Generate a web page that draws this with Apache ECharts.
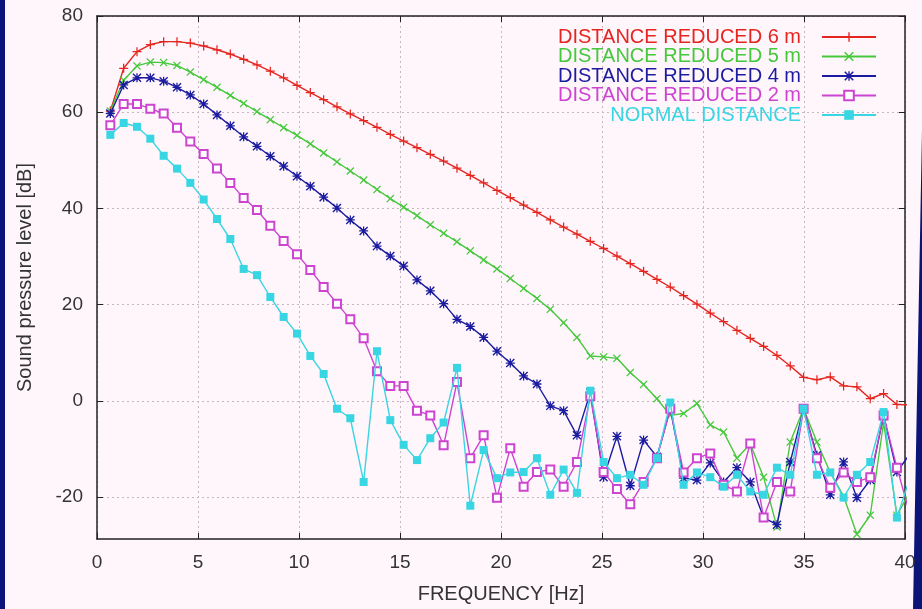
<!DOCTYPE html>
<html>
<head>
<meta charset="utf-8">
<script src="https://cdn.jsdelivr.net/npm/echarts@6/dist/echarts.min.js"></script>
<style>
html,body{margin:0;padding:0;background:#fff6fb;}
#chart{width:922px;height:609px;}
</style>
</head>
<body>
<div id="chart"></div>
<script>
// ---- data ----
var freq = [0.66,1.32,1.98,2.64,3.3,3.96,4.62,5.28,5.94,6.6,7.26,7.92,8.58,9.24,9.9,10.56,11.22,11.88,12.54,13.2,13.86,14.52,15.18,15.84,16.5,17.16,17.82,18.48,19.14,19.8,20.46,21.12,21.78,22.44,23.1,23.76,24.42,25.08,25.74,26.4,27.06,27.72,28.38,29.04,29.7,30.36,31.02,31.68,32.34,33.0,33.66,34.32,34.98,35.64,36.3,36.96,37.62,38.28,38.94,39.6,40.26];

var reduced6 = [60,69,72.5,74,74.6,74.6,74.3,73.7,72.9,72,70.9,69.7,68.4,67,65.4,63.9,62.4,60.9,59.4,58,56.6,55.1,53.7,52.3,50.9,49.5,48,46.5,44.9,43.3,41.8,40.2,38.7,37.1,35.6,34.1,32.6,31.1,29.5,27.9,26.3,24.6,23,21.2,19.4,17.5,15.7,13.9,12.2,10.5,8.6,6.4,4,3.5,4.1,2.2,2,-0.5,0.6,-1.7,-1.8];

var reduced5 = [60,66.5,69.5,70.3,70.2,69.6,68.2,66.6,65,63.3,61.6,59.9,58.2,56.5,54.9,53.1,51.2,49.3,47.4,45.5,43.5,41.6,39.8,38,36.1,34.3,32.5,30.6,28.7,26.8,24.8,22.7,20.6,18.3,15.5,12.4,8.5,8.3,8,5,2.5,-0.5,-4,-3.6,-1.5,-6,-7.5,-13,-10,-17,-27.5,-9.6,-2.6,-9.6,-16,-21,-29,-25,-5.5,-25,-20];

var reduced4 = [59.5,65.5,67,67,66.3,65,63.4,61.5,59.2,56.9,54.6,52.6,50.5,48.4,46.3,44.2,41.9,39.6,37.1,34.8,31.6,29.5,27.4,24.5,22.2,19.5,16.2,14.7,12.4,9.5,7,4.3,2.6,-2,-3,-8.2,0.8,-17,-8.4,-18.8,-9.2,-12.7,-2.6,-17.2,-17.6,-14,-18,-15,-18,-25.5,-27,-13.8,-2.6,-12.4,-20.7,-13.8,-21.3,-17.6,-4,-15.9,-12];

var reduced2 = [57,61.5,61.5,60.5,59.5,56.5,53.6,51,47.9,44.9,41.7,39.2,35.9,32.7,29.9,26.6,23,19.5,16.2,12.2,5.3,2.2,2.2,-3,-4,-10.3,3,-13,-8.2,-21.3,-10.9,-19,-15.9,-15.4,-19,-13.8,0,-15.9,-19.5,-22.7,-18,-13,-2.6,-16,-13,-12,-18.6,-20,-9.9,-25.5,-18,-20,-2.6,-13,-19.2,-16,-18,-17,-4,-15,-25];

var normal = [55,57.5,56.7,54.2,50.6,47.9,44.9,41.4,37.3,33.1,26.8,25.5,20.9,16.7,13.2,8.5,4.7,-2.6,-4.6,-18,9.5,-5,-10.2,-13.4,-8.8,-5.5,6,-23,-11.3,-17.2,-16,-15.9,-13,-20.7,-15.4,-20.3,1.2,-13.8,-17.2,-16.5,-18.6,-13,-1.3,-18.6,-16,-17,-19,-16.5,-20,-20.7,-15,-16.5,-2.6,-16.5,-16,-21.3,-16.5,-13.8,-3.3,-25.5,-17];

var seriesNames = ['DISTANCE REDUCED 6 m','DISTANCE REDUCED 5 m','DISTANCE REDUCED 4 m','DISTANCE REDUCED 2 m','NORMAL DISTANCE'];
var xTicks = [0,5,10,15,20,25,30,35,40];
var yTicks = [-20,0,20,40,60,80];

// ---- styling ----
var colors = ['#e52620','#46c83c','#1c1ca0','#cc44d0','#38d6e2'];
var plusPath = 'path://M4.3,0H5.7V4.3H10V5.7H5.7V10H4.3V5.7H0V4.3H4.3Z';
var crossPath = 'path://M1.1,0L5,3.9L8.9,0L10,1.1L6.1,5L10,8.9L8.9,10L5,6.1L1.1,10L0,8.9L3.9,5L0,1.1Z';
var starPath = 'path://M4.3,0H5.7V4.3H10V5.7H5.7V10H4.3V5.7H0V4.3H4.3Z M1.1,0L5,3.9L8.9,0L10,1.1L6.1,5L10,8.9L8.9,10L5,6.1L1.1,10L0,8.9L3.9,5L0,1.1Z';
var symbols = [plusPath, crossPath, starPath, 'emptyRect', 'rect'];
var symbolSizes = [9, 8, 9, 8, 8];
var allValues = [reduced6, reduced5, reduced4, reduced2, normal];

var font = 'Liberation Sans, Arial, Helvetica, sans-serif';
var gridLine = {show:true, lineStyle:{color:'#c6b6c0', type:[2,3], width:1}};

function pairs(vals){ return freq.map(function(f,i){ return [f, vals[i]]; }); }

var series = allValues.map(function(vals, i){
  return {
    name: seriesNames[i], type:'line', xAxisIndex:0, yAxisIndex:0,
    data: pairs(vals), symbol: symbols[i], symbolSize: symbolSizes[i],
    showSymbol:true, clip:true,
    lineStyle:{color:colors[i], width:1.4},
    itemStyle:{color:colors[i]},
    emphasis:{disabled:true}, z: 3+i
  };
});

var chart = echarts.init(document.getElementById('chart'), null, {renderer:'canvas'});
chart.setOption({
  animation:false,
  backgroundColor:'#fff6fb',
  textStyle:{fontFamily:font},
  grid:[
    {left:97, right:17, top:16, bottom:64},
    {left:97, right:17, top:16, bottom:112}
  ],
  xAxis:[
    {gridIndex:0, type:'value', min:xTicks[0], max:xTicks[xTicks.length-1], interval:5, position:'bottom',
     axisLine:{show:true, onZero:false, lineStyle:{color:'#222', width:1.5}},
     axisTick:{show:true, inside:true, length:6, lineStyle:{color:'#222'}},
     axisLabel:{show:true, fontSize:19, color:'#333', margin:14, fontFamily:font},
     splitLine:gridLine,
     name:'FREQUENCY [Hz]', nameLocation:'middle', nameGap:45,
     nameTextStyle:{fontSize:20, color:'#333', fontFamily:font}},
    {gridIndex:0, type:'value', min:0, max:40, interval:5, position:'top',
     axisLine:{show:true, onZero:false, lineStyle:{color:'#222', width:1.5}},
     axisTick:{show:true, inside:true, length:6, lineStyle:{color:'#222'}},
     axisLabel:{show:false}, splitLine:{show:false}},
    {gridIndex:1, type:'value', min:0, max:40, show:false}
  ],
  yAxis:[
    {gridIndex:0, type:'value', min:-30, max:80, position:'left',
     axisLine:{show:true, onZero:false, lineStyle:{color:'#222', width:1.5}},
     axisTick:{show:false}, axisLabel:{show:false}, splitLine:{show:false},
     name:'Sound pressure level [dB]', nameLocation:'middle', nameGap:62,
     nameTextStyle:{fontSize:20, color:'#333', fontFamily:font}},
    {gridIndex:0, type:'value', min:-30, max:80, position:'right',
     axisLine:{show:true, onZero:false, lineStyle:{color:'#222', width:1.5}},
     axisTick:{show:false}, axisLabel:{show:false}, splitLine:{show:false}},
    {gridIndex:1, type:'value', min:yTicks[0], max:yTicks[yTicks.length-1], interval:20, position:'left',
     axisLine:{show:false},
     axisTick:{show:true, inside:true, length:6, lineStyle:{color:'#222'}},
     axisLabel:{show:true, fontSize:19, color:'#333', margin:14, fontFamily:font},
     splitLine:gridLine},
    {gridIndex:1, type:'value', min:-20, max:80, interval:20, position:'right',
     axisLine:{show:false},
     axisTick:{show:true, inside:true, length:6, lineStyle:{color:'#222'}},
     axisLabel:{show:false}, splitLine:{show:false}}
  ],
  legend:{
    orient:'vertical', right:40, top:22, align:'right',
    itemWidth:54, itemHeight:12, itemGap:-0.5,
    textStyle:{fontSize:20, fontFamily:font, padding:[0,16,0,0]},
    data: seriesNames.map(function(n,i){ return {name:n, textStyle:{color:colors[i]}}; })
  },
  graphic:[
    {type:'rect', left:0, top:0, shape:{x:0,y:0,width:5,height:609}, style:{fill:'#0d1478'}, silent:true},
    {type:'polygon', shape:{points:[[922,130],[922,609],[913,609]]}, style:{fill:'#0d1478'}, silent:true}
  ],
  series: series
});
</script>
</body>
</html>
